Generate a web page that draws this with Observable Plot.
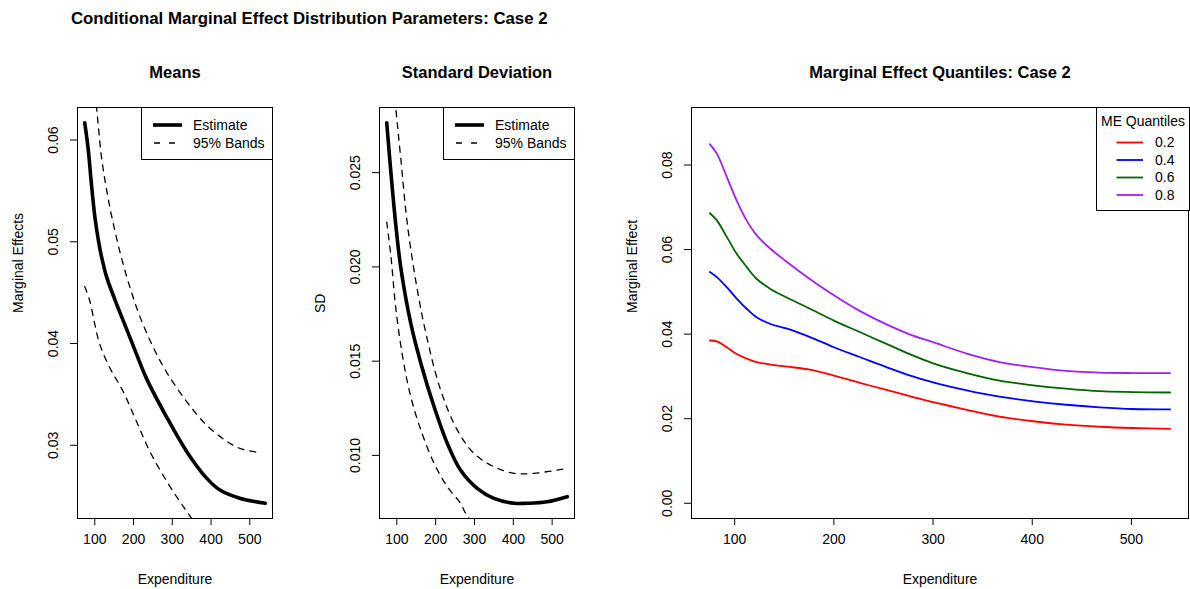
<!DOCTYPE html>
<html>
<head>
<meta charset="utf-8">
<script src="https://cdn.jsdelivr.net/npm/d3@7"></script>
<script src="https://cdn.jsdelivr.net/npm/@observablehq/plot@0.6"></script>
<style>
  html, body { margin: 0; padding: 0; background: #fff; }
  #root { position: relative; width: 1190px; height: 589px; overflow: hidden; background: #fff;
          font-family: "Liberation Sans", Arial, Helvetica, sans-serif; color: #000; }
  .abs { position: absolute; }
  .title { left: 71px; top: 9px; font-size: 16.8px; font-weight: bold; line-height: 20px; white-space: nowrap; }
  .legend { border: 1px solid #000; background: #fff; box-sizing: border-box; }
</style>
</head>
<body>
<div id="root">
  <div class="abs title">Conditional Marginal Effect Distribution Parameters: Case 2</div>
</div>
<script>
// ---------- Panel 1: Means ----------
const meanEstX   = [74, 83, 91, 100, 109, 117, 130, 152, 177, 199, 233, 285, 337, 388, 423, 474, 540];
const meanEst    = [0.0617, 0.0591, 0.0558, 0.0525, 0.0502, 0.0486, 0.0466, 0.0443, 0.0419, 0.0398, 0.0366, 0.0328, 0.0294, 0.0268, 0.0256, 0.0248, 0.0243];
const meanUpX    = [75, 90, 107, 117, 130, 147, 169, 195, 220, 250, 285, 337, 388, 440, 474, 521];
const meanUp     = [0.0740, 0.0687, 0.0622, 0.0584, 0.0552, 0.0519, 0.0484, 0.0450, 0.0423, 0.0397, 0.0372, 0.0343, 0.0320, 0.0304, 0.0297, 0.0293];
const meanLoX    = [74, 87, 100, 113, 139, 173, 207, 242, 285, 319, 341, 380];
const meanLo     = [0.0456, 0.0442, 0.0419, 0.0399, 0.0376, 0.0353, 0.0324, 0.0294, 0.0265, 0.0245, 0.0233, 0.0212];
const meanYTicks = [0.03, 0.04, 0.05, 0.06];

// ---------- Panel 2: Standard deviation ----------
const sdEstX  = [74, 85, 97, 110, 136, 162, 196, 230, 264, 307, 350, 402, 436, 487, 539];
const sdEst   = [0.02765, 0.02495, 0.0223, 0.0200, 0.0170, 0.01488, 0.01258, 0.01064, 0.00922, 0.00825, 0.00772, 0.00746, 0.00746, 0.00754, 0.00781];
const sdUpX   = [74, 86, 97, 110, 127, 153, 179, 213, 256, 299, 350, 402, 453, 539];
const sdUp    = [0.0340, 0.0310, 0.0285, 0.0258, 0.0223, 0.01876, 0.01611, 0.01346, 0.01134, 0.0101, 0.0094, 0.00905, 0.00905, 0.00931];
const sdLoX   = [74, 85, 97, 115, 136, 162, 196, 230, 264, 277, 300];
const sdLo    = [0.02238, 0.02053, 0.01788, 0.01523, 0.01311, 0.01134, 0.00958, 0.00834, 0.00746, 0.00693, 0.0063];
const sdYTicks = [0.010, 0.015, 0.020, 0.025];

// ---------- Panel 3: Quantiles ----------
const qX = [75, 82, 92, 102, 112, 122, 136, 153, 176, 200, 226, 253, 277, 300, 334, 367, 401, 434, 468, 501, 539];
const q20 = [0.0385, 0.0383, 0.0369, 0.0353, 0.0342, 0.0334, 0.0328, 0.0323, 0.0316, 0.0302, 0.0285, 0.0268, 0.0253, 0.0239, 0.0221, 0.0205, 0.0194, 0.0186, 0.0181, 0.0178, 0.0176];
const q40 = [0.0547, 0.0535, 0.0511, 0.0484, 0.0460, 0.0440, 0.0424, 0.0413, 0.0393, 0.0369, 0.0346, 0.0322, 0.0302, 0.0286, 0.0267, 0.0252, 0.0241, 0.0233, 0.0227, 0.0223, 0.0222];
const q60 = [0.0686, 0.0669, 0.0630, 0.0590, 0.0559, 0.0531, 0.0507, 0.0486, 0.0460, 0.0432, 0.0405, 0.0377, 0.0352, 0.0331, 0.0308, 0.0290, 0.0279, 0.0271, 0.0265, 0.0263, 0.0262];
const q80 = [0.0849, 0.0827, 0.0772, 0.0716, 0.0669, 0.0634, 0.0602, 0.0570, 0.0530, 0.0492, 0.0455, 0.0423, 0.0399, 0.0381, 0.0354, 0.0334, 0.0322, 0.0313, 0.0309, 0.0308, 0.0308];
const qLabels = ["0.2", "0.4", "0.6", "0.8"];
const qColors = ["#ff0000", "#0000ff", "#006400", "#a020f0"];
const qYTicks = [0.00, 0.02, 0.04, 0.06, 0.08];
const qYLim = [0, 0.09];

const xTicks = [100, 200, 300, 400, 500];

// ---------- helpers ----------
const expand = ([lo, hi]) => { const r = hi - lo; return [lo - 0.04 * r, hi + 0.04 * r]; };
const zip = (xs, ys, extra = {}) => xs.map((x, i) => ({x, y: ys[i], ...extra}));
const FONT = '"Liberation Sans", Arial, Helvetica, sans-serif';
const CURVE = "catmull-rom";
const root = document.getElementById("root");

function panel({left, width, mL, mR, xDom, yDom, yTicks, yFmt, marks, title, ylab}) {
  const svg = Plot.plot({
    width, height: 549,
    marginTop: 67, marginBottom: 71, marginLeft: mL, marginRight: mR,
    style: {fontFamily: FONT, fontSize: "14px", background: "transparent", overflow: "visible", color: "#000"},
    x: {domain: xDom},
    y: {domain: yDom},
    marks: [
      ...marks,
      Plot.frame({stroke: "#000", strokeWidth: 1}),
      Plot.axisX({ticks: xTicks, tickSize: 7, tickPadding: 9, label: null, fontSize: 14, tickFormat: d3.format("d")}),
      Plot.axisY({ticks: yTicks, tickSize: 7, label: null, tickFormat: () => ""}),
      Plot.text(yTicks, {y: d => d, text: d => yFmt(d), frameAnchor: "left", dx: -24, rotate: -90,
                         textAnchor: "middle", lineAnchor: "middle", fontSize: 14}),
      Plot.text([title], {frameAnchor: "top", dy: -35, lineAnchor: "middle", fontSize: 16.5, fontWeight: "bold"}),
      Plot.text(["Expenditure"], {frameAnchor: "bottom", dy: 61, lineAnchor: "middle", fontSize: 14}),
      Plot.text([ylab], {frameAnchor: "left", dx: -59, rotate: -90, lineAnchor: "middle", fontSize: 14})
    ]
  });
  svg.style.position = "absolute";
  svg.style.left = left + "px";
  svg.style.top = "40px";
  root.appendChild(svg);
}

const clipLine = (data, opts) => Plot.line(data, {x: "x", y: "y", curve: CURVE, clip: true, ...opts});

// Panel 1
panel({
  left: 0, width: 300, mL: 77, mR: 28,
  xDom: expand(d3.extent(meanEstX)), yDom: expand(d3.extent(meanEst)),
  yTicks: meanYTicks, yFmt: d3.format(".2f"),
  title: "Means", ylab: "Marginal Effects",
  marks: [
    clipLine(zip(meanUpX, meanUp), {stroke: "#000", strokeWidth: 1.3, strokeDasharray: "6,6"}),
    clipLine(zip(meanLoX, meanLo), {stroke: "#000", strokeWidth: 1.3, strokeDasharray: "6,6"}),
    clipLine(zip(meanEstX, meanEst), {stroke: "#000", strokeWidth: 3.6})
  ]
});

// Panel 2
panel({
  left: 300, width: 300, mL: 79, mR: 26,
  xDom: expand(d3.extent(sdEstX)), yDom: expand(d3.extent(sdEst)),
  yTicks: sdYTicks, yFmt: d3.format(".3f"),
  title: "Standard Deviation", ylab: "SD",
  marks: [
    clipLine(zip(sdUpX, sdUp), {stroke: "#000", strokeWidth: 1.3, strokeDasharray: "6,6"}),
    clipLine(zip(sdLoX, sdLo), {stroke: "#000", strokeWidth: 1.3, strokeDasharray: "6,6"}),
    clipLine(zip(sdEstX, sdEst), {stroke: "#000", strokeWidth: 3.6})
  ]
});

// Panel 3
const qSeries = [q20, q40, q60, q80];
const qData = qSeries.flatMap((ys, k) => zip(qX, ys, {q: qLabels[k]}));
panel({
  left: 600, width: 590, mL: 91, mR: 2,
  xDom: expand(d3.extent(qX)), yDom: expand(qYLim),
  yTicks: qYTicks, yFmt: d3.format(".2f"),
  title: "Marginal Effect Quantiles: Case 2", ylab: "Marginal Effect",
  marks: [
    Plot.line(qData, {x: "x", y: "y", z: "q", stroke: d => qColors[qLabels.indexOf(d.q)], curve: CURVE, strokeWidth: 1.8, clip: true})
  ]
});

// ---------- Legends (HTML) ----------
function bandLegend(left) {
  const div = document.createElement("div");
  div.className = "abs legend";
  Object.assign(div.style, {left: left + "px", top: "107px", width: "132px", height: "53px"});
  div.innerHTML = `
    <svg width="130" height="51" style="position:absolute;left:0;top:0;overflow:visible">
      <line x1="11" x2="40" y1="17" y2="17" stroke="#000" stroke-width="3.6"/>
      <line x1="12" x2="40" y1="35" y2="35" stroke="#000" stroke-width="1.3" stroke-dasharray="6,9"/>
      <text x="51" y="17" dy="0.35em" font-size="14" font-family='${FONT}'>Estimate</text>
      <text x="51" y="35" dy="0.35em" font-size="14" font-family='${FONT}'>95% Bands</text>
    </svg>`;
  root.appendChild(div);
}
bandLegend(141);
bandLegend(443);

(function quantLegend() {
  const div = document.createElement("div");
  div.className = "abs legend";
  Object.assign(div.style, {left: "1096px", top: "107px", width: "94px", height: "104px"});
  let s = `<svg width="92" height="102" style="position:absolute;left:0;top:0;overflow:visible">
      <text x="46" y="13" dy="0.35em" text-anchor="middle" font-size="14" font-family='${FONT}'>ME Quantiles</text>`;
  qLabels.forEach((lab, i) => {
    const y = 34.5 + i * 17.5;
    s += `<line x1="19.5" x2="46" y1="${y}" y2="${y}" stroke="${qColors[i]}" stroke-width="1.8"/>
          <text x="58" y="${y}" dy="0.35em" font-size="14" font-family='${FONT}'>${lab}</text>`;
  });
  s += `</svg>`;
  div.innerHTML = s;
  root.appendChild(div);
})();
</script>
</body>
</html>
